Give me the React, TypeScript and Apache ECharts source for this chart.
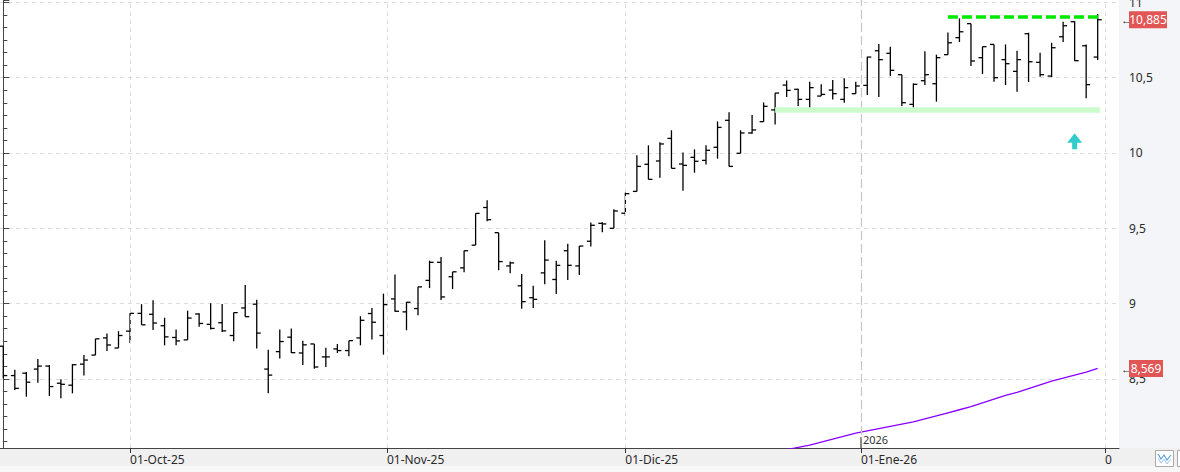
import React, { useEffect, useRef } from "react";
import * as echarts from "echarts";

// Daily OHLC bars, index 0 = 16-Sep-25 ... index 95 = last session
const opens = [
  8.717, 8.522, 8.538, 8.565, 8.585, 8.471, 8.458, 8.598, 8.658, 8.772,
  8.705, 8.817, 8.935, 8.929, 8.853, 8.775, 8.759, 8.931, 8.862, 8.873,
  8.788, 8.971, 8.996, 8.565, 8.681, 8.777, 8.672, 8.732, 8.646, 8.699,
  8.688, 8.772, 8.934, 8.788, 9.031, 8.945, 8.967, 9.154, 9.274, 9.178,
  9.237, 9.388, 9.638, 9.471, 9.25, 9.118, 9.039, 9.204, 9.16, 9.351,
  9.25, 9.414, 9.533, 9.5, 9.6, 9.745, 9.925, 9.947, 10.097, 9.927,
  9.971, 9.951, 10.038, 10.217, 9.998, 10.133, 10.208, 10.286, 10.451, 10.423,
  10.356, 10.378, 10.418, 10.356, 10.394, 10.449, 10.679, 10.662, 10.52, 10.323,
  10.48, 10.46, 10.653, 10.766, 10.859, 10.633, 10.721, 10.62, 10.542, 10.792,
  10.602, 10.511, 10.772, 10.872, 10.712, 10.637,
];
const highs = [
  8.717, 8.56, 8.545, 8.632, 8.592, 8.498, 8.598, 8.658, 8.766, 8.801,
  8.817, 8.935, 8.996, 9.022, 8.906, 8.828, 8.953, 8.935, 9.002, 8.998,
  8.94, 9.123, 9.025, 8.694, 8.828, 8.835, 8.754, 8.732, 8.706, 8.732,
  8.754, 8.916, 8.971, 9.066, 9.193, 9.011, 9.111, 9.285, 9.309, 9.211,
  9.353, 9.599, 9.686, 9.471, 9.279, 9.197, 9.118, 9.421, 9.285, 9.397,
  9.382, 9.539, 9.54, 9.626, 9.737, 9.985, 10.051, 10.071, 10.151, 10.004,
  10.024, 10.051, 10.21, 10.27, 10.151, 10.252, 10.336, 10.398, 10.482, 10.427,
  10.473, 10.456, 10.485, 10.496, 10.473, 10.639, 10.724, 10.706, 10.52, 10.462,
  10.675, 10.653, 10.801, 10.894, 10.859, 10.706, 10.721, 10.721, 10.679, 10.799,
  10.666, 10.732, 10.872, 10.876, 10.721, 10.923,
];
const lows = [
  8.504, 8.426, 8.382, 8.475, 8.386, 8.371, 8.404, 8.522, 8.658, 8.685,
  8.705, 8.739, 8.859, 8.824, 8.723, 8.723, 8.759, 8.846, 8.828, 8.812,
  8.75, 8.913, 8.701, 8.404, 8.636, 8.672, 8.593, 8.568, 8.579, 8.672,
  8.65, 8.723, 8.761, 8.661, 8.945, 8.823, 8.923, 9.103, 9.024, 9.096,
  9.208, 9.388, 9.546, 9.221, 9.202, 8.965, 8.971, 9.129, 9.064, 9.156,
  9.189, 9.379, 9.473, 9.5, 9.582, 9.745, 9.825, 9.836, 9.898, 9.75,
  9.869, 9.923, 9.962, 9.911, 9.998, 10.128, 10.208, 10.19, 10.372, 10.312,
  10.301, 10.378, 10.356, 10.334, 10.394, 10.385, 10.372, 10.511, 10.312, 10.279,
  10.451, 10.341, 10.653, 10.737, 10.577, 10.524, 10.473, 10.451, 10.407, 10.471,
  10.507, 10.504, 10.737, 10.611, 10.363, 10.618,
];
const closes = [
  8.522, 8.437, 8.478, 8.585, 8.449, 8.464, 8.594, 8.625, 8.766, 8.725,
  8.788, 8.935, 8.859, 8.871, 8.779, 8.752, 8.904, 8.868, 8.835, 8.819,
  8.94, 8.913, 8.804, 8.525, 8.748, 8.674, 8.726, 8.579, 8.646, 8.688,
  8.754, 8.889, 8.876, 8.993, 8.949, 9.009, 9.111, 9.274, 9.044, 9.211,
  9.351, 9.599, 9.557, 9.279, 9.27, 9.013, 9.028, 9.289, 9.254, 9.254,
  9.382, 9.52, 9.529, 9.615, 9.73, 9.911, 9.825, 10.06, 9.898, 9.918,
  9.945, 10.018, 10.17, 9.911, 10.133, 10.153, 10.31, 10.398, 10.416, 10.356,
  10.434, 10.389, 10.394, 10.434, 10.445, 10.637, 10.62, 10.549, 10.334, 10.456,
  10.52, 10.633, 10.732, 10.805, 10.611, 10.706, 10.5, 10.593, 10.62, 10.606,
  10.52, 10.699, 10.845, 10.613, 10.454, 10.885,
];

// Long moving average (purple), visible part starts at bar 68
const maStartIndex = 68;
const maValues = [
  8.03, 8.045, 8.06, 8.08, 8.1, 8.12, 8.14, 8.155, 8.17, 8.185,
  8.2, 8.215, 8.235, 8.255, 8.275, 8.295, 8.315, 8.34, 8.365, 8.39,
  8.41, 8.435, 8.46, 8.485, 8.505, 8.525, 8.545, 8.569,
];

// Time axis ticks (bar-index units) and labels
const xTickPositions = [11, 33.3, 54, 74.45, 95.63];
const xTickLabels = ["01-Oct-25", "01-Nov-25", "01-Dic-25", "01-Ene-26", "0"];
const yearPosition = 74.45;
const yearLabel = "2026";

// Drawn levels
const resistanceLevel = 10.904;
const resistanceRange = [82, 95.2];
const supportLevel = 10.286;
const supportRange = [67, 95.2];
const arrowPoint = [93, 10.078];

const fmt = (v: number, d?: number) =>
  (d === undefined ? String(v) : v.toFixed(d)).replace(".", ",");

export default function App() {
  const ref = useRef<HTMLDivElement>(null);

  useEffect(() => {
    if (!ref.current) return;
    const chart = echarts.init(ref.current, null, { renderer: "svg" });
    const ohlc = opens.map((o, i) => [i, o, highs[i], lows[i], closes[i]]);
    const ma = maValues.map((v, i) => [maStartIndex + i, v]);
    const font = "'Noto Sans', 'Open Sans', sans-serif";

    const gridLine = { color: "#dcdcdc", type: [4, 4], width: 1 };
    const verticalGrid = xTickPositions
      .filter((p) => p !== yearPosition)
      .map((p) => ({ xAxis: p, lineStyle: gridLine }));

    chart.setOption({
      animation: false,
      backgroundColor: "#f0f0f0",
      textStyle: { fontFamily: font },
      grid: {
        left: 0,
        top: 0,
        right: 61,
        bottom: 24,
        containLabel: false,
        outerBoundsMode: "none",
        show: true,
        backgroundColor: "#ffffff",
        borderWidth: 0,
        borderColor: "transparent",
      },
      xAxis: {
        type: "value",
        min: -0.286,
        max: 96.85,
        position: "bottom",
        axisLine: { show: true, onZero: false, lineStyle: { color: "#444", width: 1 } },
        axisTick: {
          show: true,
          customValues: xTickPositions,
          length: 5,
          lineStyle: { color: "#333" },
        },
        axisLabel: {
          show: true,
          customValues: xTickPositions,
          formatter: (v: number) => {
            const i = xTickPositions.findIndex((p) => Math.abs(p - v) < 1e-6);
            return i >= 0 ? xTickLabels[i] : "";
          },
          align: "left",
          margin: 5,
          fontSize: 12,
          color: "#2a2a2a",
          fontFamily: font,
        },
        splitLine: { show: false },
      },
      yAxis: {
        type: "value",
        position: "right",
        min: 8.041,
        max: 11.016,
        splitNumber: 6,
        axisLine: { show: true, lineStyle: { color: "#444", width: 1 } },
        axisTick: { show: true, length: 6, lineStyle: { color: "#444" } },
        minorTick: { show: true, splitNumber: 6, length: 4, lineStyle: { color: "#444" } },
        axisLabel: {
          showMinLabel: false,
          showMaxLabel: false,
          hideOverlap: false,
          formatter: (v: number) => fmt(v),
          margin: 10,
          fontSize: 12,
          color: "#2a2a2a",
          fontFamily: font,
        },
        splitLine: {
          show: true,
          showMinLine: false,
          showMaxLine: false,
          lineStyle: gridLine,
        },
      },
      series: [
        {
          type: "line",
          name: "MA",
          data: ma,
          showSymbol: false,
          symbol: "none",
          clip: true,
          z: 1,
          lineStyle: { color: "#8a00ff", width: 1.3 },
          markLine: {
            silent: true,
            symbol: ["none", "none"],
            label: { show: false },
            data: [
              ...verticalGrid,
              { xAxis: yearPosition, lineStyle: { color: "#c6c6c6", type: [9, 4], width: 1.2 } },
              [
                { coord: [supportRange[0], supportLevel], lineStyle: { color: "#ccfccc", width: 5.5, type: "solid" } },
                { coord: [supportRange[1], supportLevel] },
              ],
              [
                { coord: [resistanceRange[0], resistanceLevel], lineStyle: { color: "#00e800", width: 3.5, type: [10, 4] } },
                { coord: [resistanceRange[1], resistanceLevel] },
              ],
            ],
          },
          markPoint: {
            silent: true,
            symbol: "path://M7.5,0 L15,9.5 L10,9.5 L10,16 L5,16 L5,9.5 L0,9.5 Z",
            symbolSize: [15, 16],
            itemStyle: { color: "#33cccc" },
            label: { show: false },
            data: [{ coord: arrowPoint }],
          },
        },
        {
          type: "custom",
          name: "OHLC",
          z: 3,
          data: ohlc,
          encode: { x: 0, y: [1, 2, 3, 4] },
          renderItem: (params: any, api: any) => {
            const x = api.value(0);
            const pO = api.coord([x, api.value(1)]);
            const pH = api.coord([x, api.value(2)]);
            const pL = api.coord([x, api.value(3)]);
            const pC = api.coord([x, api.value(4)]);
            const style = { stroke: "#000", lineWidth: 1.3 };
            return {
              type: "group",
              children: [
                { type: "line", shape: { x1: pH[0], y1: pH[1], x2: pL[0], y2: pL[1] }, style },
                { type: "line", shape: { x1: pO[0] - 4, y1: pO[1], x2: pO[0], y2: pO[1] }, style },
                { type: "line", shape: { x1: pC[0], y1: pC[1], x2: pC[0] + 4, y2: pC[1] }, style },
              ],
            };
          },
        },
      ],
    });

    const lastClose = closes[closes.length - 1];
    const lastMa = maValues[maValues.length - 1];
    const yClose = chart.convertToPixel({ yAxisIndex: 0 }, lastClose) as number;
    const yMa = chart.convertToPixel({ yAxisIndex: 0 }, lastMa) as number;
    const xYear = chart.convertToPixel({ xAxisIndex: 0 }, yearPosition) as number;
    const W = 1180;
    const H = 472;
    const axisX = W - 61;
    const axisY = H - 24;

    const priceTag = (y: number, text: string, w: number) => [
      {
        type: "text",
        z: 50,
        x: axisX + 2,
        y: y,
        style: { text: "←", fill: "#333", font: `11px ${font}`, textVerticalAlign: "middle" },
      },
      {
        type: "rect",
        z: 50,
        shape: { x: axisX + 10, y: y - 8.5, width: w, height: 17 },
        style: { fill: "#e25555" },
      },
      {
        type: "text",
        z: 51,
        x: axisX + 10 + w / 2,
        y: y,
        style: {
          text,
          fill: "#fff",
          font: `12px ${font}`,
          textAlign: "center",
          textVerticalAlign: "middle",
        },
      },
    ];

    chart.setOption({
      graphic: [
        {
          type: "rect",
          z: -10,
          silent: true,
          shape: { x: axisX + 0.5, y: 0, width: W - axisX, height: axisY },
          style: { fill: "#f3f5f8" },
        },
        {
          type: "rect",
          z: -10,
          silent: true,
          shape: { x: 0, y: H - 6, width: W, height: 6 },
          style: { fill: "#f7f7f7" },
        },
        {
          type: "line",
          z: 20,
          shape: { x1: xYear, y1: axisY - 11, x2: xYear, y2: axisY },
          style: { stroke: "#333", lineWidth: 1 },
        },
        {
          type: "text",
          z: 20,
          x: xYear + 2,
          y: axisY - 3,
          style: { text: yearLabel, fill: "#333", font: `11px ${font}`, textVerticalAlign: "bottom" },
        },
        ...priceTag(yClose, fmt(lastClose, 3), 38),
        ...priceTag(yMa, fmt(lastMa, 3), 34),
        {
          type: "rect",
          z: 20,
          shape: { x: 1155.5, y: 450.5, width: 18, height: 16 },
          style: { fill: "#fff", stroke: "#a8a8a8", lineWidth: 1 },
        },
        {
          type: "polyline",
          z: 21,
          shape: { points: [[1158, 454], [1161, 459], [1164, 455], [1167, 460], [1171, 455]] },
          style: { stroke: "#5a9ee0", lineWidth: 1.2, fill: "none" },
        },
        {
          type: "polyline",
          z: 21,
          shape: { points: [[1158, 458], [1161, 463], [1164, 459], [1167, 464], [1171, 459]] },
          style: { stroke: "#9cc4ec", lineWidth: 1, fill: "none" },
        },
        {
          type: "rect",
          z: 20,
          shape: { x: 1177.5, y: 450.5, width: 14, height: 16 },
          style: { fill: "#fff", stroke: "#a8a8a8", lineWidth: 1 },
        },
      ],
    });

    return () => chart.dispose();
  }, []);

  return (
    <div
      ref={ref}
      style={{ position: "absolute", left: 0, top: 0, width: 1180, height: 472 }}
    />
  );
}
